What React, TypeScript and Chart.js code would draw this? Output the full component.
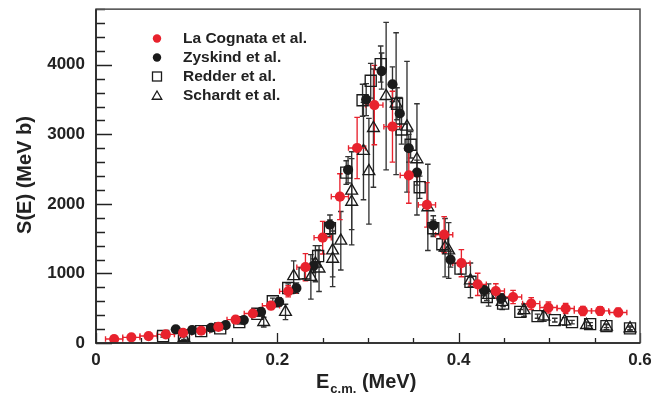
import React, { useEffect, useRef } from 'react';
import { Chart, registerables } from 'chart.js';

Chart.register(...registerables);

// Axis ticks
const xTicks = [0, 0.2, 0.4, 0.6];
const yTicks = [0, 1000, 2000, 3000, 4000];

// La Cognata et al. (THM)
const cognataE = [0.020, 0.039, 0.058, 0.077, 0.096, 0.116, 0.135, 0.154, 0.173, 0.193, 0.212, 0.231, 0.250, 0.269, 0.288, 0.307, 0.327, 0.345, 0.365, 0.384, 0.403, 0.421, 0.441, 0.460, 0.480, 0.499, 0.518, 0.537, 0.556, 0.576];
const cognataS = [57, 81, 100, 124, 147, 176, 233, 336, 424, 536, 743, 1090, 1514, 2104, 2804, 3421, 3110, 2410, 1986, 1557, 1147, 843, 747, 661, 567, 510, 496, 461, 461, 439];
const cognataErrS = [20, 20, 22, 24, 26, 30, 34, 40, 46, 55, 80, 195, 235, 330, 440, 570, 510, 400, 320, 260, 195, 160, 105, 95, 85, 80, 72, 65, 62, 60];
const cognataErrE = [0.0095, 0.0095, 0.0095, 0.0095, 0.0095, 0.0095, 0.0095, 0.0095, 0.0095, 0.0095, 0.0095, 0.0095, 0.0095, 0.0095, 0.0095, 0.0095, 0.0095, 0.0095, 0.0095, 0.0095, 0.0095, 0.0095, 0.0095, 0.0095, 0.0095, 0.0095, 0.0095, 0.0095, 0.0095, 0.0095];

// Zyskind et al.
const zyskindE = [0.088, 0.106, 0.127, 0.143, 0.163, 0.182, 0.202, 0.221, 0.240, 0.258, 0.278, 0.298, 0.315, 0.327, 0.335, 0.345, 0.354, 0.372, 0.391, 0.428, 0.447];
const zyskindS = [196, 186, 219, 257, 329, 447, 590, 790, 1110, 1700, 2490, 3500, 3910, 3720, 3300, 2800, 2450, 1690, 1200, 760, 640];
const zyskindErrS = [25, 25, 28, 30, 35, 45, 60, 75, 100, 140, 190, 230, 260, 250, 230, 200, 180, 140, 110, 80, 70];

// Redder et al.
const redderE = [0.074, 0.097, 0.116, 0.137, 0.158, 0.178, 0.195, 0.212, 0.230, 0.245, 0.258, 0.276, 0.294, 0.303, 0.314, 0.332, 0.337, 0.347, 0.357, 0.372, 0.382, 0.402, 0.413, 0.431, 0.449, 0.468, 0.487, 0.506, 0.525, 0.545, 0.563, 0.589];
const redderS = [100, 114, 170, 210, 300, 420, 600, 790, 1000, 1250, 1650, 2450, 3490, 3770, 4010, 3440, 3070, 2850, 2240, 1650, 1420, 1070, 880, 661, 567, 447, 386, 329, 300, 271, 243, 210];
const redderErrS = [15, 15, 20, 22, 28, 35, 45, 60, 75, 90, 120, 170, 230, 250, 260, 230, 210, 190, 160, 120, 100, 80, 65, 50, 42, 35, 30, 27, 25, 23, 21, 20];

// Schardt et al.
const schardtE = [0.097, 0.185, 0.209, 0.218, 0.237, 0.242, 0.246, 0.261, 0.261, 0.270, 0.282, 0.282, 0.295, 0.301, 0.306, 0.320, 0.331, 0.343, 0.354, 0.366, 0.385, 0.389, 0.413, 0.433, 0.448, 0.472, 0.494, 0.517, 0.541, 0.563, 0.589];
const schardtS = [70, 300, 447, 960, 950, 1140, 1070, 1330, 1210, 1470, 2190, 2030, 2760, 2470, 3090, 3550, 3440, 3110, 2640, 1950, 1370, 1330, 900, 690, 590, 471, 380, 310, 257, 233, 210];
const schardtErrS = [20, 70, 110, 220, 320, 260, 330, 380, 400, 420, 560, 620, 700, 760, 850, 1060, 1020, 940, 800, 620, 420, 400, 250, 160, 110, 90, 70, 55, 45, 40, 35];

const FONT = "'Liberation Sans', Arial, Helvetica, sans-serif";
const RED = '#e8222d';
const BLACK = '#1b1b1b';
const BAR_GREY = '#333333';

const toPoints = (xs: number[], ys: number[]) => xs.map((x, i) => ({ x, y: ys[i] }));

// Vertical / horizontal error bars with small end caps
const errorBarPlugin = {
  id: 'errorBars',
  beforeDatasetsDraw(chart: any) {
    const { ctx, chartArea, scales } = chart;
    const xs = scales.x;
    const ys = scales.y;
    ctx.save();
    ctx.beginPath();
    ctx.rect(chartArea.left, chartArea.top, chartArea.right - chartArea.left, chartArea.bottom - chartArea.top);
    ctx.clip();
    const cap = 2.8;
    for (let i = chart.data.datasets.length - 1; i >= 0; i--) {
      const ds: any = chart.data.datasets[i];
      ctx.strokeStyle = ds.errColor;
      ctx.lineWidth = 1.35;
      ds.data.forEach((p: any, j: number) => {
        const px = xs.getPixelForValue(p.x);
        const py = ys.getPixelForValue(p.y);
        const dy = ds.errY ? ds.errY[j] : 0;
        if (dy) {
          const t = ys.getPixelForValue(p.y + dy);
          const b = ys.getPixelForValue(Math.max(0, p.y - dy));
          ctx.beginPath();
          ctx.moveTo(px, t); ctx.lineTo(px, b);
          ctx.moveTo(px - cap, t); ctx.lineTo(px + cap, t);
          ctx.moveTo(px - cap, b); ctx.lineTo(px + cap, b);
          ctx.stroke();
        }
        const dx = ds.errX ? ds.errX[j] : 0;
        if (dx) {
          const l = xs.getPixelForValue(p.x - dx);
          const r = xs.getPixelForValue(p.x + dx);
          ctx.beginPath();
          ctx.moveTo(l, py); ctx.lineTo(r, py);
          ctx.moveTo(l, py - cap); ctx.lineTo(l, py + cap);
          ctx.moveTo(r, py - cap); ctx.lineTo(r, py + cap);
          ctx.stroke();
        }
      });
    }
    ctx.restore();
  },
};

// Frame, inward tick marks, axis titles and the legend box
const framePlugin = {
  id: 'frame',
  afterDraw(chart: any) {
    const { ctx, chartArea, scales } = chart;
    const xs = scales.x;
    const ys = scales.y;
    const { left, right, top, bottom } = chartArea;
    ctx.save();

    // tick marks pointing into the plot
    ctx.strokeStyle = '#222';
    ctx.lineWidth = 1.3;
    ctx.beginPath();
    for (let v = 0; v <= 4800 + 1e-6; v += 200) {
      const py = Math.round(ys.getPixelForValue(v)) + 0.5;
      const len = v % 1000 === 0 ? 16 : 9;
      ctx.moveTo(left, py); ctx.lineTo(left + len, py);
    }
    for (let k = 0; k <= 12; k++) {
      const v = k * 0.05;
      const px = Math.round(xs.getPixelForValue(v)) + 0.5;
      const len = k % 4 === 0 ? 10 : 5;
      ctx.moveTo(px, bottom); ctx.lineTo(px, bottom - len);
    }
    ctx.stroke();

    // plot frame
    ctx.strokeStyle = '#555';
    ctx.lineWidth = 1.6;
    ctx.strokeRect(left, top, right - left, bottom - top);
    ctx.strokeStyle = '#222';
    ctx.beginPath();
    ctx.moveTo(left, top); ctx.lineTo(left, bottom); ctx.lineTo(right, bottom);
    ctx.stroke();

    // axis titles
    ctx.fillStyle = '#222';
    ctx.font = `bold 20px ${FONT}`;
    ctx.save();
    ctx.translate(25, 175);
    ctx.rotate(-Math.PI / 2);
    ctx.textAlign = 'center';
    ctx.textBaseline = 'middle';
    ctx.fillText('S(E) (MeV b)', 0, 0);
    ctx.restore();

    ctx.textAlign = 'left';
    ctx.textBaseline = 'alphabetic';
    ctx.font = `bold 20px ${FONT}`;
    const ex = 316;
    ctx.fillText('E', ex, 388);
    const eW = ctx.measureText('E').width;
    ctx.font = `bold 13px ${FONT}`;
    ctx.fillText('c.m.', ex + eW + 1, 393);
    const subW = ctx.measureText('c.m.').width;
    ctx.font = `bold 20px ${FONT}`;
    ctx.fillText(' (MeV)', ex + eW + 1 + subW, 388);

    // legend
    const rows = [38.5, 57.5, 76.5, 95.5];
    const mx = 157;
    ctx.font = `bold 15.5px ${FONT}`;
    ctx.textBaseline = 'middle';
    chart.data.datasets.forEach((ds: any, i: number) => {
      const my = rows[i];
      ctx.lineWidth = 1.3;
      ctx.strokeStyle = BLACK;
      if (ds.pointStyle === 'circle') {
        ctx.fillStyle = ds.backgroundColor;
        ctx.beginPath();
        ctx.arc(mx, my, 4.2, 0, Math.PI * 2);
        ctx.fill();
      } else if (ds.pointStyle === 'rect') {
        ctx.strokeRect(mx - 4.5, my - 4.5, 9, 9);
      } else {
        const r = 5.5;
        ctx.beginPath();
        for (let k = 0; k < 3; k++) {
          const a = k * (2 * Math.PI / 3);
          const vx = mx + Math.sin(a) * r;
          const vy = my + 1 - Math.cos(a) * r;
          if (k === 0) ctx.moveTo(vx, vy); else ctx.lineTo(vx, vy);
        }
        ctx.closePath();
        ctx.stroke();
      }
      ctx.fillStyle = '#222';
      ctx.fillText(ds.label, 183, my + 0.5);
    });

    ctx.restore();
  },
};

export default function App() {
  const canvasRef = useRef<HTMLCanvasElement | null>(null);

  useEffect(() => {
    const canvas = canvasRef.current;
    if (!canvas) return;
    const tickFont = { family: FONT, size: 17, weight: 'bold' as const };

    const chart = new Chart(canvas, {
      type: 'scatter',
      data: {
        datasets: [
          {
            label: 'La Cognata et al.',
            data: toPoints(cognataE, cognataS),
            errY: cognataErrS,
            errX: cognataErrE,
            errColor: RED,
            pointStyle: 'circle',
            pointRadius: 5.1,
            backgroundColor: RED,
            borderColor: RED,
            borderWidth: 0,
          } as any,
          {
            label: 'Zyskind et al.',
            data: toPoints(zyskindE, zyskindS),
            errY: zyskindErrS,
            errColor: BAR_GREY,
            pointStyle: 'circle',
            pointRadius: 5.1,
            backgroundColor: BLACK,
            borderColor: BLACK,
            borderWidth: 0,
          } as any,
          {
            label: 'Redder et al.',
            data: toPoints(redderE, redderS),
            errY: redderErrS,
            errColor: BAR_GREY,
            pointStyle: 'rect',
            pointRadius: 7.8,
            backgroundColor: 'rgba(0,0,0,0)',
            borderColor: BLACK,
            borderWidth: 1.35,
          } as any,
          {
            label: 'Schardt et al.',
            data: toPoints(schardtE, schardtS),
            errY: schardtErrS,
            errColor: BAR_GREY,
            pointStyle: 'triangle',
            pointRadius: 6.8,
            backgroundColor: 'rgba(0,0,0,0)',
            borderColor: BLACK,
            borderWidth: 1.35,
          } as any,
        ],
      },
      options: {
        animation: false,
        responsive: false,
        maintainAspectRatio: false,
        layout: { padding: { top: 7, right: 27, left: 0, bottom: 0 } },
        plugins: {
          legend: { display: false },
          tooltip: { enabled: false },
        },
        scales: {
          x: {
            type: 'linear',
            min: 0,
            max: 0.6,
            grid: { display: false, drawTicks: false },
            border: { display: false },
            ticks: { font: tickFont, color: '#222', padding: 7, maxRotation: 0, autoSkip: false, callback: (v: any) => String(v) },
            afterBuildTicks: (s: any) => { s.ticks = xTicks.map((v) => ({ value: v })); },
            afterFit: (s: any) => { s.height = 54; s.paddingLeft = 0; s.paddingRight = 0; },
          },
          y: {
            type: 'linear',
            min: 0,
            max: 4800,
            grid: { display: false, drawTicks: false },
            border: { display: false },
            ticks: { font: tickFont, color: '#222', padding: 11, autoSkip: false, callback: (v: any) => String(v) },
            afterBuildTicks: (s: any) => { s.ticks = yTicks.map((v) => ({ value: v })); },
            afterFit: (s: any) => { s.width = 96; s.paddingTop = 0; s.paddingBottom = 0; },
          },
        },
      },
      plugins: [errorBarPlugin, framePlugin],
    });

    return () => chart.destroy();
  }, []);

  return (
    <div style={{ position: 'absolute', left: 0, top: 0, width: 667, height: 397, background: '#fff' }}>
      <canvas ref={canvasRef} width={667} height={397} />
    </div>
  );
}
